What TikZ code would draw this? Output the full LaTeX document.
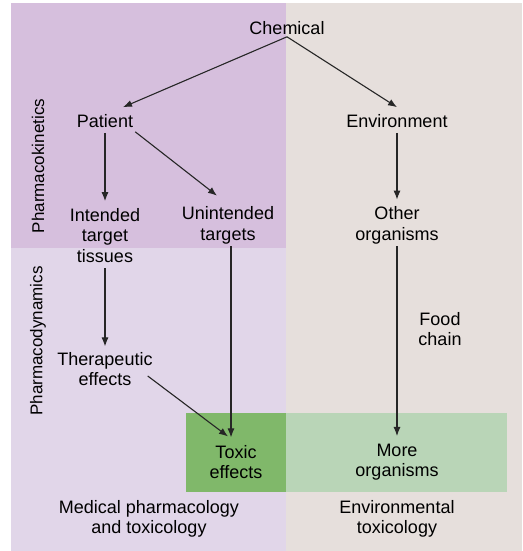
\documentclass[tikz,border=0pt]{standalone}
\usepackage{fontspec}
\setmainfont{Liberation Sans}
\usepackage{tikz}
\usetikzlibrary{arrows.meta, positioning}
\definecolor{kinetic}{RGB}{214,191,221}
\definecolor{dynamic}{RGB}{225,214,233}
\definecolor{enviro}{RGB}{230,223,220}
\definecolor{toxdark}{RGB}{128,184,106}
\definecolor{toxlight}{RGB}{185,213,183}

\begin{document}
\begin{tikzpicture}[x=1pt, y=-1pt,
    every node/.style={font=\fontsize{18}{20.5}\selectfont, inner sep=2pt, align=center},
    phase/.style={font=\fontsize{17}{20}\selectfont, rotate=90}]
    \useasboundingbox (0,0) rectangle (522,551);
    % Background bands
    \fill[kinetic] (11,3) rectangle (286,248);
    \fill[dynamic] (11,248) rectangle (286,551);
    \fill[enviro] (286,3) rectangle (522,551);
    \fill[toxdark] (186,413) rectangle (286,492);
    \fill[toxlight] (286,413) rectangle (507,492);
    % Add the nodes
    \node (chem) at (287,28) {Chemical};
    \node (patient) at (105,121) {Patient};
    \node (env) at (397,121) {Environment};
    \node (intended) at (105,235.5) {Intended\\target\\tissues};
    \node (unint) at (228,225.5) {Unintended\\targets};
    \node (other) at (397,225.5) {Other\\organisms};
    \node (thera) at (105,369) {Therapeutic\\effects};
    \node (food) at (440,329) {Food\\chain};
    \node (toxic) at (236,462) {Toxic\\effects};
    \node (more) at (397,462) {More\\organisms};
    \node (medical) at (149,519) {Medical pharmacology\\and toxicology};
    \node (envtox) at (397,519) {Environmental\\toxicology};
    \node[phase] (kinetics) at (38,166) {Pharmacokinetics};
    \node[phase] (dynamics) at (38,341) {Pharmacodynamics};

    \path[every edge/.style={draw,
        ->,
        >={Latex[length=9pt,width=7pt]},
        line width=1.1pt,
        draw=black!85}]
            (chem.south) edge ([xshift=18pt,yshift=5pt]patient.north)
            (chem.south) edge ([yshift=5pt]env.north)
            ([yshift=-3pt]patient.south) edge ([yshift=5pt]intended.north)
            ([yshift=-2pt]patient.south east) edge ([xshift=-11pt,yshift=9pt]unint.north)
            ([yshift=-3pt]env.south) edge ([yshift=5pt]other.north)
            ([yshift=-3.5pt]intended.south) edge ([yshift=3.5pt]thera.north)
            ([xshift=3pt]unint.south) edge ([xshift=-5pt,yshift=5.5pt]toxic.north)
            ([xshift=-7pt,yshift=-7pt]thera.east) edge ([xshift=-8pt,yshift=6.5pt]toxic.north)
            (other.south) edge ([yshift=5.5pt]more.north)
            ;
\end{tikzpicture}
\end{document}
